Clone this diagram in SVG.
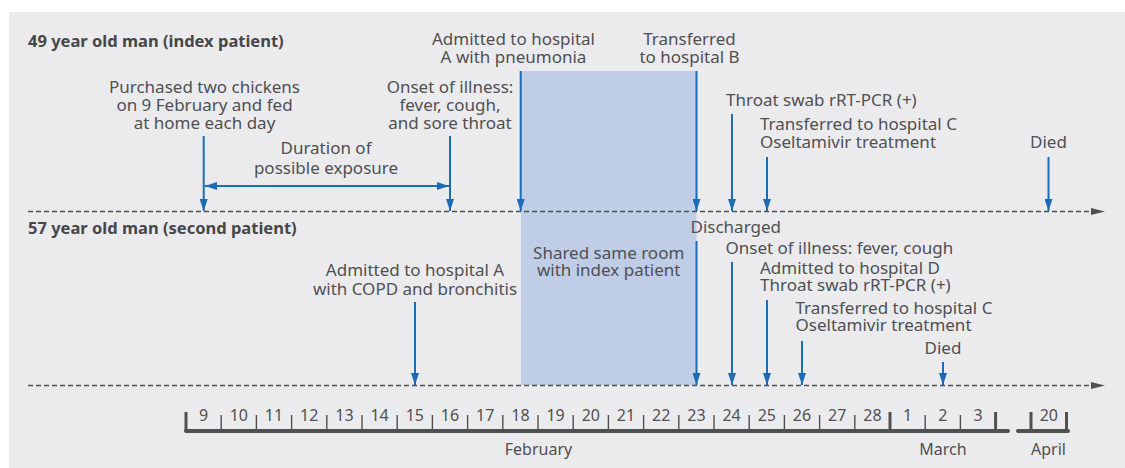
<svg xmlns="http://www.w3.org/2000/svg" width="1125" height="468" viewBox="0 0 1125 468">
<defs>
<style>
.t{font-family:"Noto Sans","Liberation Sans",sans-serif;font-size:17px;fill:#4f5052}
.c{text-anchor:middle}
.b{font-weight:bold;font-size:16.5px;fill:#46474a}
.n{font-family:"Noto Sans","Liberation Sans",sans-serif;font-size:16px;fill:#4f5052;text-anchor:middle}
.ar{stroke:#1b6cb5;stroke-width:2;fill:none;marker-end:url(#ah)}
.dash{stroke:#4f5052;stroke-width:1.3;stroke-dasharray:5 3;fill:none}
.tk{stroke:#4f5052;stroke-width:1.4}
.tkb{stroke:#4f5052;stroke-width:3}
.ax{stroke:#4f5052;stroke-width:4;stroke-linecap:round;fill:none}
</style>
<marker id="ah" markerUnits="userSpaceOnUse" markerWidth="12" markerHeight="8" refX="12" refY="4" orient="auto-start-reverse" viewBox="0 0 12 8">
<path d="M0,0 L12,4 L0,8 z" fill="#1b6cb5"/>
</marker>
<marker id="gh" markerUnits="userSpaceOnUse" markerWidth="14" markerHeight="8" refX="1" refY="4" orient="auto" viewBox="0 0 14 8">
<path d="M0,0.5 L14,4 L0,7.5 z" fill="#4f5052"/>
</marker>
</defs>
<rect x="9" y="12" width="1116" height="456" fill="#ebebee"/>
<g id="shared-room">
<rect x="521" y="71" width="175.5" height="314" fill="#bfcde7"/>
<text class="t c" x="608.7" y="258.5">Shared same room</text>
<text class="t c" x="608.7" y="276">with index patient</text>
</g>
<g id="timelines">
<line class="dash" x1="28" y1="211.5" x2="1092" y2="211.5" marker-end="url(#gh)"/>
<line class="dash" x1="28" y1="385.5" x2="1092" y2="385.5" marker-end="url(#gh)"/>
</g>
<g id="title-index"><text class="t b" x="28" y="46.5">49 year old man (index patient)</text></g>
<g id="title-second"><text class="t b" x="28" y="234">57 year old man (second patient)</text></g>
<g id="ev-purchased">
<text class="t c" x="204.5" y="93">Purchased two chickens</text>
<text class="t c" x="204.5" y="111">on 9 February and fed</text>
<text class="t c" x="204.5" y="129">at home each day</text>
</g>
<g id="ev-exposure">
<text class="t c" x="326" y="154">Duration of</text>
<text class="t c" x="326" y="174">possible exposure</text>
</g>
<g id="ev-onset1">
<text class="t c" x="450" y="93">Onset of illness:</text>
<text class="t c" x="450" y="111">fever, cough,</text>
<text class="t c" x="450" y="129">and sore throat</text>
</g>
<g id="ev-admitA1">
<text class="t c" x="513.5" y="45">Admitted to hospital</text>
<text class="t c" x="513.5" y="63">A with pneumonia</text>
</g>
<g id="ev-transB">
<text class="t c" x="689.5" y="45">Transferred</text>
<text class="t c" x="689.5" y="63">to hospital B</text>
</g>
<g id="ev-swab1"><text class="t" x="726" y="106">Throat swab rRT-PCR (+)</text></g>
<g id="ev-transC1">
<text class="t" x="760" y="130">Transferred to hospital C</text>
<text class="t" x="760" y="148">Oseltamivir treatment</text>
</g>
<g id="ev-died1"><text class="t c" x="1048.5" y="148">Died</text></g>
<g id="ev-admitA2">
<text class="t c" x="415" y="276">Admitted to hospital A</text>
<text class="t c" x="415" y="294.5">with COPD and bronchitis</text>
</g>
<g id="ev-discharged"><text class="t" x="690.5" y="232.5">Discharged</text></g>
<g id="ev-onset2"><text class="t" x="725.5" y="253.5">Onset of illness: fever, cough</text></g>
<g id="ev-admitD">
<text class="t" x="760" y="273.5">Admitted to hospital D</text>
<text class="t" x="760" y="291">Throat swab rRT-PCR (+)</text>
</g>
<g id="ev-transC2">
<text class="t" x="795.5" y="313.5">Transferred to hospital C</text>
<text class="t" x="795.5" y="331">Oseltamivir treatment</text>
</g>
<g id="ev-died2"><text class="t c" x="943" y="353.5">Died</text></g>
<g id="connectors">
<line class="ar" x1="203.7" y1="136" x2="203.7" y2="211"/>
<line class="ar" x1="450" y1="136" x2="450" y2="211"/>
<line class="ar" x1="520.7" y1="71" x2="520.7" y2="211"/>
<line class="ar" x1="696.5" y1="71" x2="696.5" y2="211"/>
<line class="ar" x1="732" y1="114" x2="732" y2="211"/>
<line class="ar" x1="767" y1="157" x2="767" y2="211"/>
<line class="ar" x1="1048.5" y1="157" x2="1048.5" y2="211"/>
<line x1="205" y1="186" x2="449" y2="186" stroke="#1b6cb5" stroke-width="2" marker-start="url(#ah)" marker-end="url(#ah)"/>
<line class="ar" x1="415" y1="302" x2="415" y2="385"/>
<line class="ar" x1="696.5" y1="241" x2="696.5" y2="385"/>
<line class="ar" x1="732" y1="262" x2="732" y2="385"/>
<line class="ar" x1="767" y1="300" x2="767" y2="385"/>
<line class="ar" x1="802" y1="341" x2="802" y2="385"/>
<line class="ar" x1="943" y1="362" x2="943" y2="385"/>
</g>
<g id="axis">
<path class="ax" d="M186,431 H1008"/>
<path class="ax" d="M1018,431 H1068"/>
<g class="tk">
<line x1="221.2" y1="415" x2="221.2" y2="431"/><line x1="256.4" y1="415" x2="256.4" y2="431"/>
<line x1="291.6" y1="415" x2="291.6" y2="431"/><line x1="326.8" y1="415" x2="326.8" y2="431"/>
<line x1="362" y1="415" x2="362" y2="431"/><line x1="397.2" y1="415" x2="397.2" y2="431"/>
<line x1="432.4" y1="415" x2="432.4" y2="431"/><line x1="467.6" y1="415" x2="467.6" y2="431"/>
<line x1="502.8" y1="415" x2="502.8" y2="431"/><line x1="538" y1="415" x2="538" y2="431"/>
<line x1="573.2" y1="415" x2="573.2" y2="431"/><line x1="608.4" y1="415" x2="608.4" y2="431"/>
<line x1="643.6" y1="415" x2="643.6" y2="431"/><line x1="678.8" y1="415" x2="678.8" y2="431"/>
<line x1="714" y1="415" x2="714" y2="431"/><line x1="749.2" y1="415" x2="749.2" y2="431"/>
<line x1="784.4" y1="415" x2="784.4" y2="431"/><line x1="819.6" y1="415" x2="819.6" y2="431"/>
<line x1="854.8" y1="415" x2="854.8" y2="431"/><line x1="925.2" y1="415" x2="925.2" y2="431"/>
<line x1="960.4" y1="415" x2="960.4" y2="431"/>
</g>
<g class="tkb">
<line x1="186" y1="412" x2="186" y2="432"/><line x1="890" y1="412" x2="890" y2="431"/>
<line x1="995.6" y1="412" x2="995.6" y2="431"/><line x1="1031" y1="412" x2="1031" y2="431"/>
<line x1="1066.5" y1="412" x2="1066.5" y2="432"/>
</g>
<g>
<text class="n" x="203.6" y="420.5">9</text><text class="n" x="238.8" y="420.5">10</text>
<text class="n" x="274" y="420.5">11</text><text class="n" x="309.2" y="420.5">12</text>
<text class="n" x="344.4" y="420.5">13</text><text class="n" x="379.6" y="420.5">14</text>
<text class="n" x="414.8" y="420.5">15</text><text class="n" x="450" y="420.5">16</text>
<text class="n" x="485.2" y="420.5">17</text><text class="n" x="520.4" y="420.5">18</text>
<text class="n" x="555.6" y="420.5">19</text><text class="n" x="590.8" y="420.5">20</text>
<text class="n" x="626" y="420.5">21</text><text class="n" x="661.2" y="420.5">22</text>
<text class="n" x="696.4" y="420.5">23</text><text class="n" x="731.6" y="420.5">24</text>
<text class="n" x="766.8" y="420.5">25</text><text class="n" x="802" y="420.5">26</text>
<text class="n" x="837.2" y="420.5">27</text><text class="n" x="872.4" y="420.5">28</text>
<text class="n" x="907.6" y="420.5">1</text><text class="n" x="942.8" y="420.5">2</text>
<text class="n" x="978" y="420.5">3</text><text class="n" x="1048.8" y="420.5">20</text>
</g>
<text class="n" x="538.5" y="455">February</text>
<text class="n" x="943" y="455">March</text>
<text class="n" x="1048.5" y="455">April</text>
</g>
</svg>
